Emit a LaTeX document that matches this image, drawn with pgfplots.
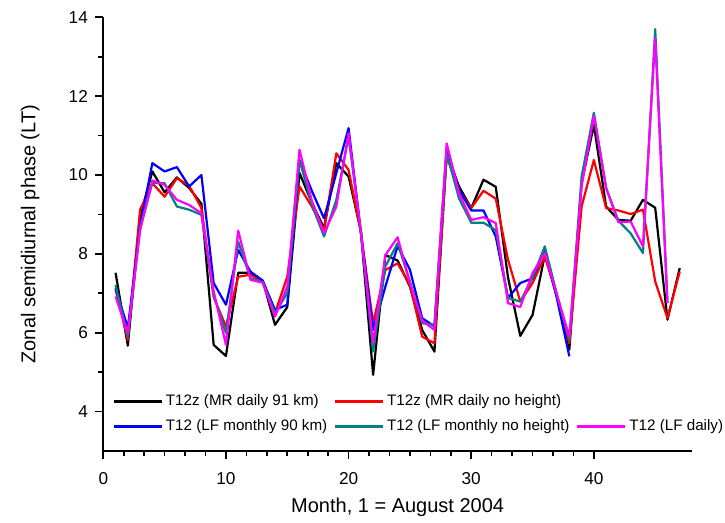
\documentclass[border=0pt]{standalone}
\usepackage{pgfplots}
\usepackage{pgfplotstable}
\pgfplotsset{compat=1.18}
\usepackage{fontspec}
\setmainfont{Liberation Sans}
\definecolor{tealc}{RGB}{0,128,128}
\definecolor{magc}{RGB}{255,0,255}
\definecolor{redc}{RGB}{255,0,0}
\definecolor{bluec}{RGB}{0,0,255}

\pgfplotstableread{
x bk rd bl tl mg
1 7.52 7.10 7.13 7.21 6.92
2 5.67 5.82 6.12 5.90 5.99
3 8.95 9.12 8.70 8.65 8.60
4 10.09 9.79 10.30 9.80 9.86
5 9.56 9.45 10.09 9.79 9.75
6 9.94 9.92 10.20 9.20 9.37
7 9.67 9.73 9.71 9.12 9.24
8 9.27 9.16 10.00 8.99 9.03
9 5.69 6.90 7.26 6.95 7.05
10 5.41 6.16 6.71 5.99 5.69
11 7.52 7.42 8.10 8.31 8.59
12 7.52 7.47 7.55 7.38 7.34
13 7.32 7.28 7.32 7.28 7.27
14 6.20 6.50 6.58 6.50 6.41
15 6.65 7.42 6.71 7.00 7.17
16 10.05 9.71 10.38 10.38 10.64
17 9.30 9.20 9.60 9.25 9.35
18 8.65 8.60 8.90 8.44 8.52
19 10.30 10.55 10.05 9.37 9.20
20 9.96 10.13 11.19 10.97 11.06
21 8.58 8.55 8.55 8.58 8.55
22 4.93 6.24 6.07 5.52 5.73
23 7.97 7.59 7.17 7.68 7.97
24 7.83 7.76 8.20 8.27 8.42
25 7.17 7.21 7.60 7.30 7.26
26 6.07 5.90 6.37 6.24 6.31
27 5.52 5.73 6.16 6.20 6.07
28 10.55 10.47 10.70 10.55 10.80
29 9.71 9.62 9.62 9.41 9.54
30 9.16 9.16 9.10 8.79 8.86
31 9.88 9.60 9.10 8.79 8.93
32 9.70 9.40 8.44 8.60 8.78
33 7.40 7.85 6.88 6.88 6.75
34 5.92 6.79 7.26 6.79 6.65
35 6.45 7.26 7.38 7.40 7.51
36 7.97 7.93 8.10 8.19 8.02
37 6.92 6.95 6.85 6.95 6.95
38 5.57 5.73 5.40 5.82 5.90
39 9.80 9.20 nan 9.96 9.71
40 11.27 10.38 nan 11.58 11.50
41 9.20 9.16 nan 9.67 9.67
42 8.86 9.10 nan 8.84 8.80
43 8.84 9.01 nan 8.52 8.82
44 9.37 9.12 nan 8.02 8.19
45 9.17 7.30 nan 13.70 13.47
46 6.33 6.37 nan 6.75 6.75
47 7.64 7.55 nan nan nan
}\data

\begin{document}
\begin{tikzpicture}
\begin{axis}[
  scale only axis, width=294.35pt, height=216.85pt,
  at={(0,0)}, anchor=south west,
  xmin=0, xmax=48, ymin=3, ymax=14,
  axis x line=bottom, axis y line=left,
  axis line style={-, line width=0.9pt},
  xtick={0,10,20,30,40}, minor x tick num=5,
  ytick={4,6,8,10,12,14}, minor y tick num=1,
  tick align=outside, major tick length=4.2pt, minor tick length=2.5pt,
  every tick/.style={black, line width=0.8pt},
  tick label style={font=\fontsize{8.6}{10}\selectfont},
  xticklabel style={yshift=-3pt},
  /pgf/number format/assume math mode=true,
  xlabel={Month, 1 = August 2004},
  ylabel={Zonal semidiurnal phase (LT)},
  label style={font=\fontsize{10.8}{13}\selectfont},
  every axis x label/.style={at={(axis description cs:0.5,-0.129)}, anchor=center},
  every axis y label/.style={at={(axis description cs:-0.1243,0.5)}, rotate=90, anchor=center},
  legend columns=3,
  legend image code/.code={\draw[#1] (0pt,0pt) -- (24pt,0pt);},
  legend style={draw=none, fill=none, inner sep=0pt,
    at={(axis description cs:0.0154,0.138)}, anchor=north west,
    font=\fontsize{7.6}{9}\selectfont,
    cells={anchor=west},
    nodes={inner sep=1.5pt},
    row sep=2.5pt,
    /tikz/every even column/.append style={column sep=1.8pt}},
  every axis plot/.append style={line width=1.1pt, line join=round, mark=none},
]
\addplot[black] table[x=x, y=bk] {\data};
\addlegendentry{T12z (MR daily 91 km)}
\addplot[redc] table[x=x, y=rd] {\data};
\addlegendentry{T12z (MR daily no height)}
\addlegendimage{empty legend}
\addlegendentry{}
\addplot[bluec] table[x=x, y=bl] {\data};
\addlegendentry{T12 (LF monthly 90 km)}
\addplot[tealc] table[x=x, y=tl] {\data};
\addlegendentry{T12 (LF monthly no height)}
\addplot[magc] table[x=x, y=mg] {\data};
\addlegendentry{T12 (LF daily)}
\end{axis}
\pgfresetboundingbox
\useasboundingbox (-51.65pt,-36pt) rectangle (310.85pt,225.5pt);
\end{tikzpicture}
\end{document}
